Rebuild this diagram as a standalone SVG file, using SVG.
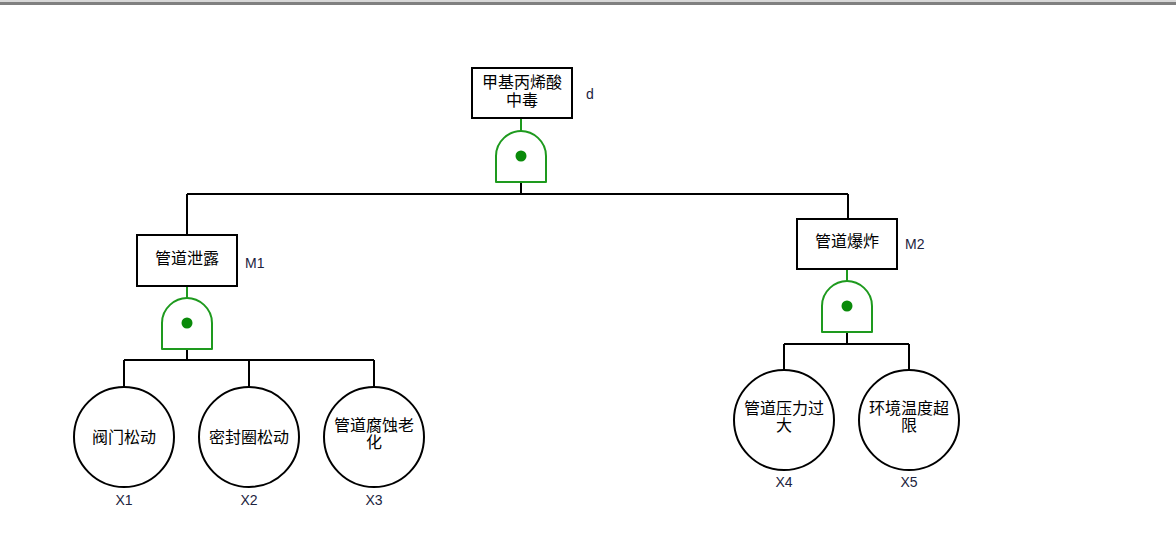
<svg xmlns="http://www.w3.org/2000/svg" width="1176" height="546" viewBox="0 0 1176 546">
<style>
.box{fill:#fff;stroke:#000;stroke-width:2}
.ev{fill:#fff;stroke:#000;stroke-width:2}
.gate{fill:#fff;stroke:#1e9a1e;stroke-width:2;stroke-linejoin:round}
.dot{fill:#0a8a0a}
.gl{stroke:#1e9a1e;stroke-width:2}
.ln{fill:none;stroke:#000;stroke-width:2}
.t{font-family:"Liberation Sans","Noto Sans CJK SC",sans-serif;font-size:16px;fill:#000;text-anchor:middle}
.lb{font-family:"Liberation Sans",Arial,sans-serif;font-size:14px;fill:#1c2340}
</style>
<defs>
<path id="g" d="M -25,26 L -25,0 C -25,-15 -12,-25 0,-25 C 12,-25 25,-15 25,0 L 25,26 Z"/>
</defs>
<rect x="0" y="0" width="1176" height="2" fill="#d8d8d8"/>
<rect x="0" y="2" width="1176" height="3" fill="#808080"/>
<g id="connectors">
<path class="ln" d="M521,182 V194 M187,194 H848 M187,194 V235 M848,194 V219"/>
<path class="ln" d="M187,349 V360 M124,360 H374 M124,360 V387 M249,360 V387 M374,360 V387"/>
<path class="ln" d="M847,332 V344 M784,344 H909 M784,344 V370 M909,344 V370"/>
<path class="gl" d="M521,118 V131 M187,286 V298 M847,269 V281"/>
</g>
<g id="top">
<rect class="box" x="472" y="68" width="100" height="50"/>
<text class="t" x="522" y="88">甲基丙烯酸</text>
<text class="t" x="522" y="106">中毒</text>
<text class="lb" x="586" y="99">d</text>
</g>
<g id="gate-top" transform="translate(521,156)">
<use href="#g" class="gate"/>
<circle class="dot" cx="0" cy="0" r="5.5"/>
</g>
<g id="M1">
<rect class="box" x="137" y="235" width="100" height="51"/>
<text class="t" x="187" y="264">管道泄露</text>
<text class="lb" x="245" y="268">M1</text>
</g>
<g id="gate-M1" transform="translate(187,323)">
<use href="#g" class="gate"/>
<circle class="dot" cx="0" cy="0" r="5.5"/>
</g>
<g id="M2">
<rect class="box" x="797" y="219" width="100" height="50"/>
<text class="t" x="847" y="247">管道爆炸</text>
<text class="lb" x="905" y="249">M2</text>
</g>
<g id="gate-M2" transform="translate(847,306)">
<use href="#g" class="gate"/>
<circle class="dot" cx="0" cy="0" r="5.5"/>
</g>
<g id="X1">
<circle class="ev" cx="124" cy="437" r="50"/>
<text class="t" x="124" y="443">阀门松动</text>
<text class="lb" x="124" y="505" text-anchor="middle">X1</text>
</g>
<g id="X2">
<circle class="ev" cx="249" cy="437" r="50"/>
<text class="t" x="249" y="443">密封圈松动</text>
<text class="lb" x="249" y="505" text-anchor="middle">X2</text>
</g>
<g id="X3">
<circle class="ev" cx="374" cy="437" r="50"/>
<text class="t" x="374" y="431">管道腐蚀老</text>
<text class="t" x="374" y="448">化</text>
<text class="lb" x="374" y="505" text-anchor="middle">X3</text>
</g>
<g id="X4">
<circle class="ev" cx="784" cy="420" r="50"/>
<text class="t" x="784" y="414">管道压力过</text>
<text class="t" x="784" y="431">大</text>
<text class="lb" x="784" y="487" text-anchor="middle">X4</text>
</g>
<g id="X5">
<circle class="ev" cx="909" cy="420" r="50"/>
<text class="t" x="909" y="414">环境温度超</text>
<text class="t" x="909" y="431">限</text>
<text class="lb" x="909" y="487" text-anchor="middle">X5</text>
</g>
</svg>
